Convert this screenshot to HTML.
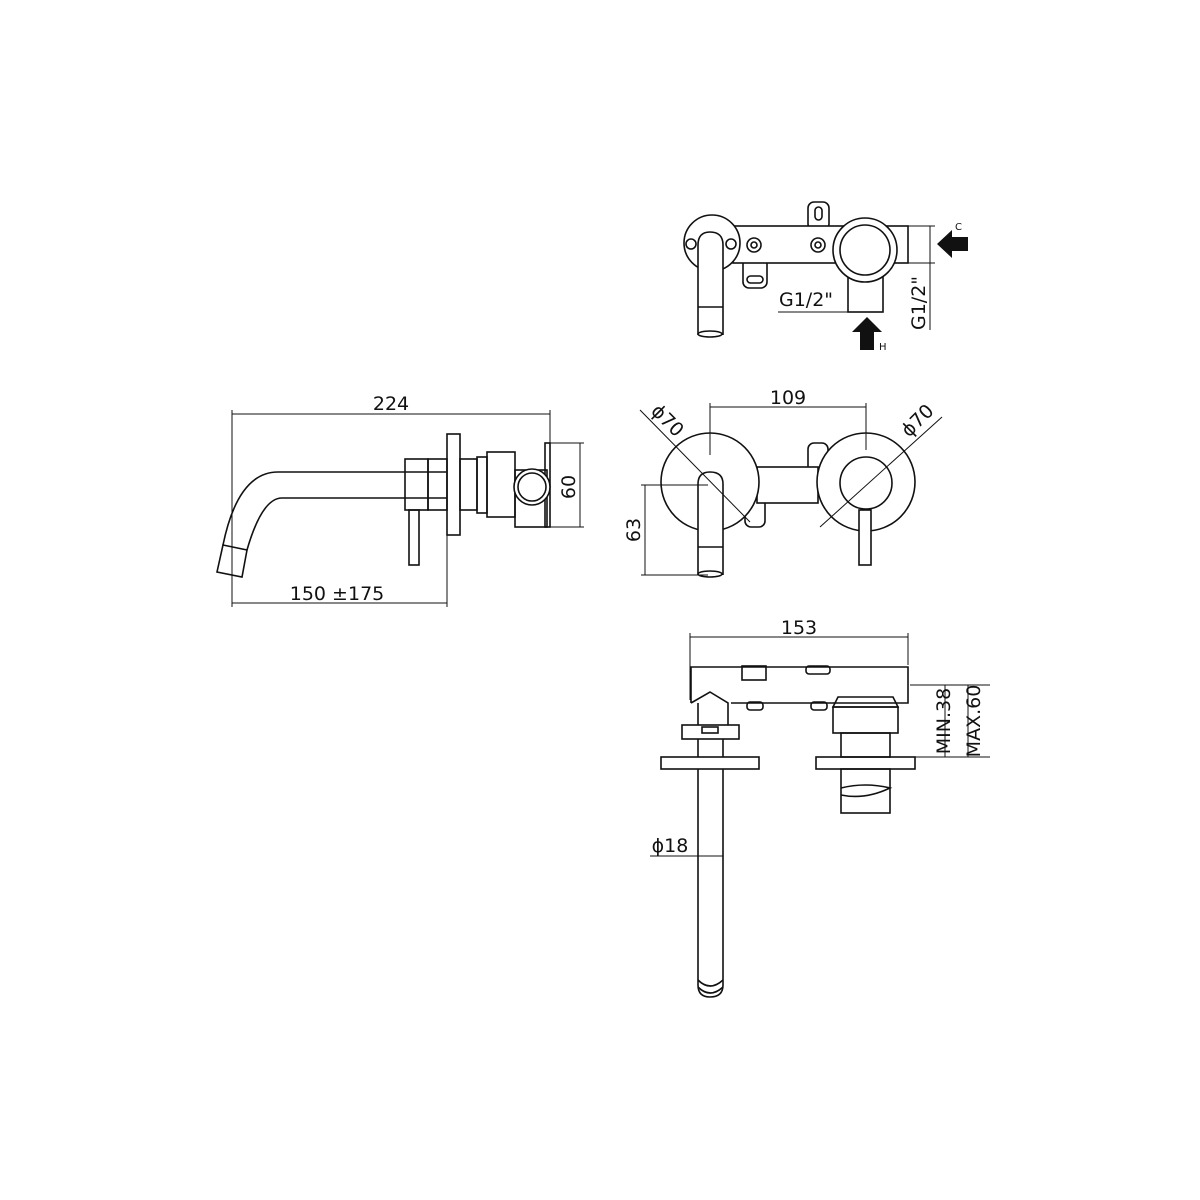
<!DOCTYPE html>
<html><head><meta charset="utf-8"><style>html,body{margin:0;padding:0;background:#fff}svg{display:block}text{font-family:"DejaVu Sans","Liberation Sans",sans-serif;fill:#111}</style></head>
<body>
<svg width="1200" height="1200" viewBox="0 0 1200 1200" xmlns="http://www.w3.org/2000/svg">
<g fill="none" stroke="#111" stroke-width="1.6">
<!-- TOP VIEW -->
<rect x="808" y="202" width="21" height="28" rx="6"/>
<rect x="815" y="207" width="7" height="13" rx="3.5"/>
<rect x="743" y="258" width="24" height="30" rx="6"/>
<rect x="747" y="276" width="16" height="7" rx="3.5"/>
<rect x="733" y="226" width="175" height="37" fill="#fff"/>
<circle cx="712" cy="243" r="28" fill="#fff"/>
<circle cx="691" cy="244" r="5"/><circle cx="731" cy="244" r="5"/>
<circle cx="754" cy="245" r="7"/><circle cx="754" cy="245" r="3"/>
<circle cx="818" cy="245" r="7"/><circle cx="818" cy="245" r="3"/>
<rect x="848" y="270" width="35" height="42" fill="#fff"/>
<circle cx="865" cy="250" r="32" fill="#fff"/>
<circle cx="865" cy="250" r="25"/>
<path d="M698,335 L698,245 Q698,232 710,232 Q723,232 723,245 L723,335" fill="#fff"/>
<line x1="698" y1="307" x2="723" y2="307"/>
<ellipse cx="710" cy="334" rx="12" ry="3"/>
<g stroke-width="1">
<line x1="908" y1="226" x2="935" y2="226"/><line x1="908" y1="263" x2="935" y2="263"/>
<line x1="930" y1="226" x2="930" y2="330"/>
<line x1="778" y1="312" x2="883" y2="312"/>
</g>
<!-- SIDE VIEW -->
<g stroke-width="1">
<line x1="232" y1="414" x2="550" y2="414"/>
<line x1="232" y1="410" x2="232" y2="607"/>
<line x1="550" y1="410" x2="550" y2="443"/>
<line x1="232" y1="603" x2="447" y2="603"/>
<line x1="447" y1="535" x2="447" y2="607"/>
<line x1="550" y1="443" x2="584" y2="443"/><line x1="550" y1="527" x2="584" y2="527"/>
<line x1="580" y1="443" x2="580" y2="527"/>
</g>
<path d="M447,472 L278,472 Q238,472 223,545 M447,498 L282,498 Q262,498 247,550"/>
<path d="M223,545 L247,550 L242,577 L217,572 Z"/>
<rect x="405" y="459" width="23" height="51"/>
<rect x="409" y="510" width="10" height="55"/>
<rect x="428" y="459" width="19" height="51"/>
<rect x="447" y="434" width="13" height="101"/>
<rect x="460" y="459" width="17" height="51"/>
<rect x="487" y="452" width="28" height="65"/>
<rect x="477" y="457" width="10" height="56"/>
<rect x="515" y="470" width="32" height="57"/>
<rect x="545" y="443" width="5" height="84"/>
<circle cx="532" cy="487" r="18" fill="#fff"/><circle cx="532" cy="487" r="14"/>
<!-- FRONT VIEW -->
<rect x="808" y="443" width="20" height="30" rx="6"/>
<rect x="745" y="497" width="20" height="30" rx="6"/>
<rect x="757" y="467" width="61" height="36" fill="#fff"/>
<circle cx="710" cy="482" r="49" fill="#fff"/>
<circle cx="866" cy="482" r="49" fill="#fff"/>
<circle cx="866" cy="483" r="26"/>
<rect x="859" y="510" width="12" height="55" fill="#fff"/>
<path d="M698,575 L698,484 Q698,472 710,472 Q723,472 723,484 L723,575" fill="#fff"/>
<line x1="698" y1="547" x2="723" y2="547"/>
<ellipse cx="710" cy="574" rx="12" ry="3"/>
<g stroke-width="1">
<line x1="710" y1="407" x2="866" y2="407"/>
<line x1="710" y1="403" x2="710" y2="455"/><line x1="866" y1="403" x2="866" y2="450"/>
<line x1="640" y1="410" x2="750" y2="522"/>
<line x1="942" y1="417" x2="820" y2="527"/>
<line x1="645" y1="485" x2="645" y2="575"/>
<line x1="641" y1="485" x2="708" y2="485"/><line x1="641" y1="575" x2="708" y2="575"/>
</g>
<!-- BOTTOM VIEW -->
<g stroke-width="1">
<line x1="690" y1="637" x2="908" y2="637"/>
<line x1="690" y1="633" x2="690" y2="700"/><line x1="908" y1="633" x2="908" y2="665"/>
<line x1="910" y1="685" x2="990" y2="685"/><line x1="915" y1="757" x2="990" y2="757"/>
<line x1="945" y1="685" x2="945" y2="757"/><line x1="968" y1="685" x2="968" y2="757"/>
<line x1="650" y1="856" x2="723" y2="856"/>
</g>
<path d="M691,703 L691,667 L908,667 L908,703 L731,703"/>
<rect x="742" y="666" width="24" height="14"/>
<rect x="806" y="666" width="24" height="8" rx="3"/>
<path d="M691,703 L710,692 L728,703 L728,725 M698,703 L698,725 M710,692"/>
<rect x="747" y="702" width="16" height="8" rx="3"/><rect x="811" y="702" width="16" height="8" rx="3"/>
<rect x="682" y="725" width="57" height="14"/>
<rect x="702" y="727" width="16" height="6"/>
<path d="M698,739 L698,985 Q698,997 710,997 Q723,997 723,985 L723,739"/>
<path d="M698,980 Q710,992 723,980 M698,987 Q710,999 723,987"/>
<rect x="661" y="757" width="98" height="12" fill="#fff"/>
<path d="M833,707 L838,697 L893,697 L898,707 Z"/>
<rect x="833" y="707" width="65" height="26"/>
<rect x="841" y="733" width="49" height="24"/>
<rect x="816" y="757" width="99" height="12"/>
<rect x="841" y="769" width="49" height="44"/>
<path d="M841,788 Q865,782 890,788 Q865,800 841,795"/>
</g>
<!-- arrows -->
<path d="M937,244 L952,230 L952,237 L968,237 L968,251 L952,251 L952,258 Z" fill="#111"/>
<path d="M867,317 L852,332 L860,332 L860,350 L874,350 L874,332 L882,332 Z" fill="#111"/>
<g font-size="19">
<text x="779" y="306">G1/2"</text>
<text transform="translate(925,330) rotate(-90)">G1/2"</text>
<text x="391" y="410" text-anchor="middle">224</text>
<text x="337" y="600" text-anchor="middle">150 ±175</text>
<text transform="translate(575,487) rotate(-90)" text-anchor="middle">60</text>
<text x="788" y="404" text-anchor="middle">109</text>
<text transform="translate(663,425) rotate(45)" text-anchor="middle">ϕ70</text>
<text transform="translate(922,425) rotate(-45)" text-anchor="middle">ϕ70</text>
<text transform="translate(640,530) rotate(-90)" text-anchor="middle">63</text>
<text x="799" y="634" text-anchor="middle">153</text>
<text x="670" y="852" text-anchor="middle">ϕ18</text>
<text transform="translate(950,721) rotate(-90)" text-anchor="middle">MIN.38</text>
<text transform="translate(980,721) rotate(-90)" text-anchor="middle">MAX.60</text>
</g>
<text x="955" y="230" font-size="10">C</text>
<text x="879" y="350" font-size="10">H</text>
</svg>
</body></html>
